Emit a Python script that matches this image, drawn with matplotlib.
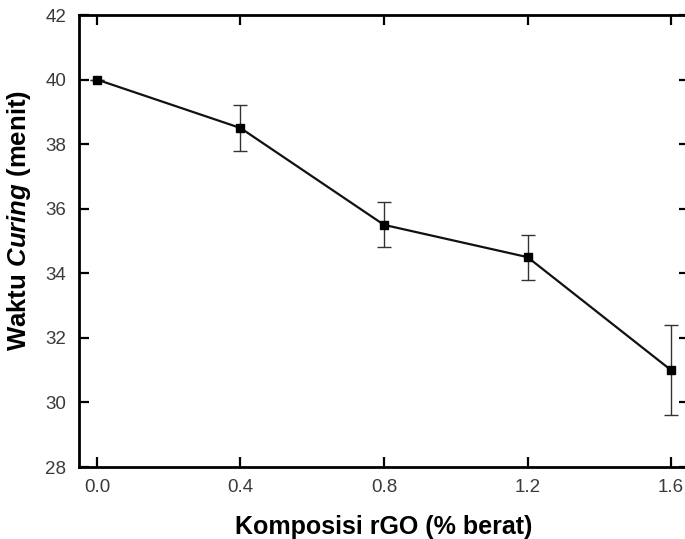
import numpy as np
import matplotlib.pyplot as plt

plt.rcParams.update({
    'font.family': 'Liberation Sans',
    'font.size': 11,
    'mathtext.fontset': 'custom',
    'mathtext.bfit': 'Liberation Sans:italic:bold',
    'mathtext.it': 'Liberation Sans:italic',
    'mathtext.bf': 'Liberation Sans:bold',
    'mathtext.rm': 'Liberation Sans',
})

# data
rgo = [0.0, 0.4, 0.8, 1.2, 1.6]
waktu = [40.0, 38.5, 35.5, 34.5, 31.0]
err = [0.0, 0.7, 0.7, 0.7, 1.4]

xticks = [0.0, 0.4, 0.8, 1.2, 1.6]
yticks = [28, 30, 32, 34, 36, 38, 40, 42]

fig = plt.figure(figsize=(6.85, 5.39), dpi=100)
ax = fig.add_axes([79/685, (539-467)/539, (689-79)/685, (467-15)/539])

ax.errorbar(rgo, waktu, yerr=err, color='#111111', lw=1.6,
            marker='s', ms=6, mfc='black', mec='black',
            ecolor='#333333', elinewidth=1.0, capsize=5, capthick=1.0)

ax.set_xlim(-0.05, 1.65)
ax.set_ylim(28, 42)
ax.set_xticks(xticks)
ax.set_xticklabels(['%.1f' % v for v in xticks])
ax.set_yticks(yticks)

for s in ax.spines.values():
    s.set_linewidth(2)
ax.tick_params(direction='in', length=7, width=1.6, top=True, right=True,
               labelsize=13.5, labelcolor='#3a3a3a', pad=9)

ax.set_xlabel('Komposisi rGO (% berat)', fontsize=18, fontweight='bold', labelpad=13)
ax.set_ylabel(r'Waktu $\bfit{Curing}$ (menit)', fontsize=18.5, fontweight='bold')
ax.yaxis.set_label_coords(-0.075, 0.545)

fig.savefig('out.png', dpi=100)
